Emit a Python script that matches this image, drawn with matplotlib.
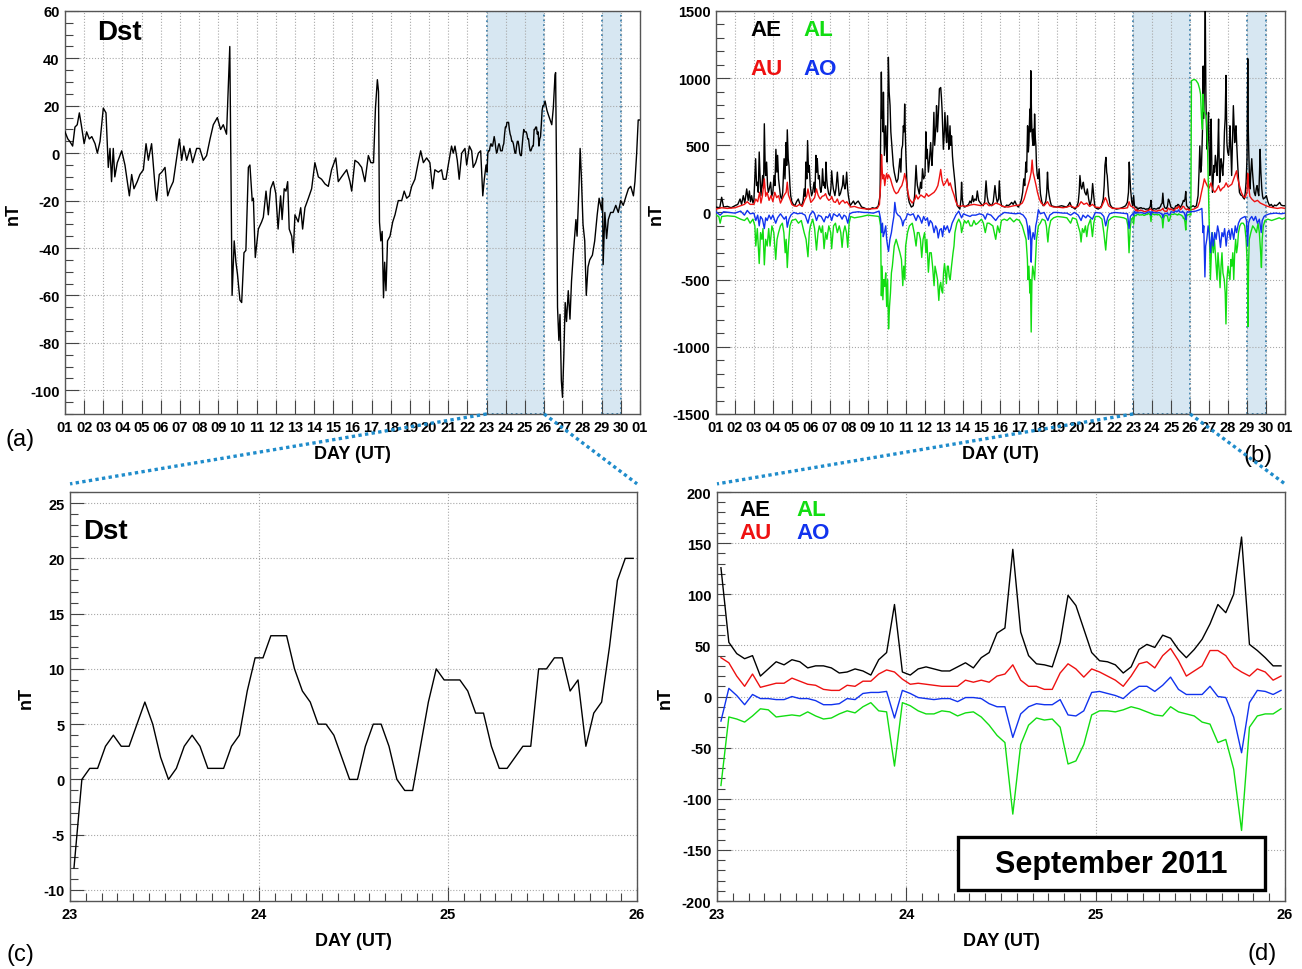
import numpy as np
import matplotlib
matplotlib.use('Agg')
import matplotlib.pyplot as plt
from matplotlib.patches import ConnectionPatch, Rectangle
from matplotlib.ticker import MultipleLocator

plt.rcParams['font.family'] = ['Liberation Sans', 'DejaVu Sans']
plt.rcParams['font.weight'] = 'bold'
plt.rcParams['axes.unicode_minus'] = False

# ── data (day of Sept 2011, value in nT) ─────────────────────────────────
day_labels = [f'{d:02d}' for d in range(1, 31)] + ['01']
zoom_labels = ['23', '24', '25', '26']

# hourly values, 23-26 Sept (panels c/d)
dst_zoom = [-8, 0, 1, 1, 3, 4, 3, 3, 5, 7, 5, 2, 0, 1, 3, 4, 3, 1, 1, 1, 3, 4, 8, 11,
            11, 13, 13, 13, 10, 8, 7, 5, 5, 4, 2, 0, 0, 3, 5, 5, 3, 0, -1, -1, 3, 7, 10, 9,
            9, 9, 8, 6, 6, 3, 1, 1, 2, 3, 3, 10, 10, 11, 11, 8, 9, 3, 6, 7, 12, 18, 20, 20]
ae_zoom = [126, 53, 42, 37, 40, 20, 27, 34, 31, 36, 34, 28, 30, 30, 28, 23, 24, 27, 25, 21, 36, 43, 90, 24,
           21, 27, 29, 27, 25, 25, 29, 33, 28, 38, 43, 62, 67, 144, 63, 40, 32, 31, 29, 53, 99, 89, 66, 43,
           35, 34, 31, 23, 29, 46, 51, 48, 60, 57, 46, 38, 46, 56, 71, 90, 82, 100, 156, 51, 45, 38, 30, 30]
au_zoom = [38, 33, 20, 10, 22, 9, 11, 13, 13, 18, 15, 12, 11, 7, 6, 6, 11, 10, 15, 15, 22, 26, 24, 17,
           12, 13, 12, 11, 10, 10, 10, 16, 14, 16, 14, 20, 22, 31, 16, 10, 10, 7, 7, 23, 32, 27, 19, 27,
           24, 20, 16, 10, 20, 32, 34, 28, 40, 47, 35, 20, 25, 30, 45, 45, 40, 29, 24, 20, 27, 24, 16, 20]
ao_zoom = [-24, 8, 1, -8, 2, -2, -2, -3, -3, 0, -2, -2, -4, -8, -8, -7, -2, -3, 3, 4, 4, 5, -21, 6,
           3, -1, -2, -3, -2, -2, -5, -1, -1, -2, -7, -10, -10, -40, -17, -10, -7, -8, -8, -3, -18, -19, -14, 4,
           5, 3, 1, -2, 5, 10, 10, 5, 11, 19, 7, 2, 2, 2, 10, 0, -1, -20, -55, -6, 6, 5, 2, 6]
al_zoom = [-87, -20, -22, -25, -19, -12, -13, -20, -19, -18, -19, -15, -19, -22, -21, -17, -14, -16, -10, -6, -14, -15, -68, -6,
           -9, -14, -17, -17, -14, -15, -19, -16, -15, -20, -28, -38, -45, -115, -47, -28, -21, -23, -22, -30, -66, -63, -47, -18,
           -14, -14, -15, -13, -10, -12, -15, -18, -19, -10, -15, -17, -19, -25, -27, -45, -42, -71, -131, -30, -19, -17, -17, -12]

# Dst outside the zoom window: (day, nT)
dst_before = [(1.0, 9), (1.05, 8), (1.15, 6), (1.25, 5), (1.4, 3), (1.52, 11), (1.64, 12), (1.75, 17), (1.87, 11),
              (2.0, 4), (2.13, 9), (2.27, 6), (2.4, 7), (2.57, 4), (2.69, 0), (2.83, 5), (3.0, 19), (3.14, 17),
              (3.26, -6), (3.35, 2), (3.43, -12), (3.52, 2), (3.6, -10), (3.73, -4), (3.96, 1), (4.13, -5),
              (4.36, -18), (4.48, -9), (4.6, -15), (4.77, -12), (4.91, -9), (5.09, -7), (5.23, 4), (5.35, -3),
              (5.52, 4), (5.7, -14), (5.78, -20), (5.92, -9), (6.05, -8), (6.22, -6), (6.36, -18), (6.48, -15),
              (6.65, -12), (6.83, -2), (6.97, 6), (7.09, -3), (7.2, 3), (7.35, -3), (7.52, 2), (7.66, -4),
              (7.87, 2), (8.03, 2), (8.22, -3), (8.39, -1), (8.57, 6), (8.74, 12), (8.95, 15), (9.12, 10),
              (9.26, 12), (9.43, 8), (9.52, 27), (9.6, 45), (9.65, 0), (9.72, -60), (9.83, -37), (9.92, -46),
              (10.0, -51), (10.13, -62), (10.22, -63), (10.34, -42), (10.44, -41), (10.57, -6), (10.65, -5),
              (10.77, -20), (10.83, -19), (10.93, -44), (11.09, -32), (11.26, -29), (11.35, -27), (11.49, -16),
              (11.61, -26), (11.73, -15), (11.87, -12), (12.0, -17), (12.12, -32), (12.25, -18), (12.33, -28),
              (12.44, -15), (12.53, -16), (12.62, -12), (12.7, -32), (12.83, -35), (12.91, -42), (13.0, -26),
              (13.17, -29), (13.3, -23), (13.4, -32), (13.52, -23), (13.7, -19), (13.87, -15), (14.04, -4),
              (14.22, -10), (14.39, -11), (14.57, -13), (14.74, -14), (14.91, -7), (15.13, -2), (15.26, -12),
              (15.43, -10), (15.7, -7), (15.87, -12), (15.96, -16), (16.13, -3), (16.3, -4), (16.48, -6),
              (16.65, -12), (16.83, -1), (16.96, -4), (17.1, -4), (17.2, 19), (17.3, 31), (17.36, 26),
              (17.41, -29), (17.48, -37), (17.55, -33), (17.62, -61), (17.68, -46), (17.75, -58), (17.83, -37),
              (17.96, -35), (18.1, -29), (18.22, -26), (18.39, -20), (18.57, -20), (18.7, -16), (18.83, -19),
              (18.97, -18), (19.09, -14), (19.26, -11), (19.43, -4), (19.56, 1), (19.7, -4), (19.87, -2),
              (20.04, -4), (20.18, -15), (20.3, -7), (20.48, -8), (20.65, -7), (20.74, -11), (20.88, -11),
              (21.0, -5), (21.17, 3), (21.26, 0), (21.35, 3), (21.47, -3), (21.57, -11), (21.7, 0), (21.87, 2),
              (21.96, -5), (22.1, 3), (22.22, 1), (22.3, -6), (22.43, -4), (22.57, 0), (22.69, 1), (22.8, -18),
              (22.88, -11), (22.97, -5)]
dst_after = [(26.05, 22), (26.15, 18), (26.23, 16), (26.4, 12), (26.48, 19), (26.57, 33), (26.6, 34), (26.65, -9),
             (26.7, -65), (26.77, -79), (26.83, -68), (26.9, -96), (26.96, -103), (27.03, -85), (27.1, -63),
             (27.17, -71), (27.26, -58), (27.35, -70), (27.43, -54), (27.52, -43), (27.66, -28), (27.72, -35),
             (27.83, -12), (27.88, 2), (27.94, -9), (28.03, -30), (28.12, -37), (28.2, -60), (28.29, -48),
             (28.38, -45), (28.52, -43), (28.64, -37), (28.77, -26), (28.87, -19), (29.0, -24), (29.05, -19),
             (29.08, -47), (29.17, -25), (29.26, -36), (29.35, -28), (29.47, -25), (29.6, -25), (29.74, -22),
             (29.87, -25), (30.0, -20), (30.13, -22), (30.28, -18), (30.4, -15), (30.52, -14), (30.66, -18),
             (30.74, -12), (30.83, 0), (30.91, 14), (31.0, 14)]

ae_before = [(1.0, 40), (1.2, 35), (1.3, 113), (1.4, 40), (1.6, 45), (1.8, 35), (2.0, 50), (2.15, 60), (2.27, 100),
             (2.35, 60), (2.44, 125), (2.52, 70), (2.62, 175), (2.7, 90), (2.76, 160), (2.82, 80), (2.88, 125),
             (2.95, 70), (3.0, 90), (3.09, 400), (3.14, 200), (3.18, 225), (3.23, 150), (3.28, 450), (3.33, 250),
             (3.37, 125), (3.42, 200), (3.46, 275), (3.51, 180), (3.55, 660), (3.6, 300), (3.62, 275), (3.67, 375),
             (3.72, 200), (3.76, 150), (3.82, 180), (3.88, 225), (3.94, 120), (4.0, 150), (4.06, 275), (4.11, 200),
             (4.16, 470), (4.21, 300), (4.25, 425), (4.3, 250), (4.34, 200), (4.4, 120), (4.46, 100), (4.52, 150),
             (4.59, 400), (4.64, 250), (4.69, 520), (4.73, 350), (4.76, 615), (4.81, 400), (4.85, 350), (4.9, 200),
             (4.94, 125), (5.0, 80), (5.08, 60), (5.16, 50), (5.25, 80), (5.34, 100), (5.43, 60), (5.52, 50),
             (5.6, 90), (5.65, 175), (5.7, 120), (5.74, 375), (5.79, 250), (5.83, 535), (5.88, 300), (5.92, 350),
             (5.97, 200), (6.04, 125), (6.1, 150), (6.17, 225), (6.22, 150), (6.27, 425), (6.31, 300), (6.34, 400),
             (6.4, 250), (6.45, 275), (6.49, 180), (6.53, 150), (6.58, 200), (6.62, 325), (6.67, 200), (6.71, 225),
             (6.76, 180), (6.8, 375), (6.84, 250), (6.87, 200), (6.94, 140), (7.01, 125), (7.06, 180), (7.1, 310),
             (7.15, 220), (7.19, 175), (7.27, 125), (7.33, 180), (7.4, 300), (7.45, 200), (7.5, 125), (7.56, 140),
             (7.62, 175), (7.67, 200), (7.71, 275), (7.76, 200), (7.8, 175), (7.85, 220), (7.89, 300), (7.94, 180),
             (7.98, 125), (8.07, 50), (8.17, 70), (8.25, 85), (8.33, 60), (8.42, 75), (8.5, 85), (8.6, 60),
             (8.68, 40), (8.8, 35), (8.95, 25), (9.12, 25), (9.25, 35), (9.39, 30), (9.5, 40), (9.56, 50),
             (9.65, 125), (9.72, 1045), (9.75, 700), (9.78, 745), (9.81, 600), (9.83, 895), (9.86, 600),
             (9.88, 425), (9.92, 550), (9.95, 645), (9.98, 500), (10.02, 375), (10.06, 700), (10.09, 1155),
             (10.13, 900), (10.18, 795), (10.22, 600), (10.26, 520), (10.31, 420), (10.35, 350), (10.4, 300),
             (10.44, 275), (10.49, 240), (10.53, 225), (10.6, 250), (10.65, 330), (10.7, 400), (10.75, 300),
             (10.79, 470), (10.84, 500), (10.88, 645), (10.92, 600), (10.95, 807), (10.99, 550), (11.02, 400),
             (11.06, 250), (11.09, 175), (11.14, 110), (11.19, 75), (11.3, 40), (11.4, 50), (11.47, 120),
             (11.55, 350), (11.59, 250), (11.62, 200), (11.67, 170), (11.72, 137), (11.79, 225), (11.84, 180),
             (11.89, 325), (11.95, 250), (12.02, 275), (12.07, 600), (12.11, 400), (12.14, 470), (12.2, 300),
             (12.25, 375), (12.32, 520), (12.36, 400), (12.39, 350), (12.44, 500), (12.49, 745), (12.53, 500),
             (12.56, 570), (12.6, 650), (12.63, 795), (12.68, 600), (12.72, 720), (12.75, 800), (12.78, 920),
             (12.85, 930), (12.89, 850), (12.92, 770), (12.96, 600), (12.99, 470), (13.04, 600), (13.07, 745),
             (13.12, 600), (13.16, 520), (13.21, 720), (13.25, 550), (13.28, 470), (13.34, 645), (13.38, 500),
             (13.42, 570), (13.47, 420), (13.51, 350), (13.56, 280), (13.6, 225), (13.66, 120), (13.72, 50),
             (13.8, 35), (13.86, 25), (13.92, 100), (13.95, 225), (13.99, 100), (14.04, 50), (14.12, 40),
             (14.22, 50), (14.32, 60), (14.39, 85), (14.46, 70), (14.53, 125), (14.58, 80), (14.65, 100),
             (14.72, 90), (14.78, 160), (14.85, 90), (14.92, 75), (15.0, 60), (15.09, 50), (15.17, 80),
             (15.24, 235), (15.3, 120), (15.36, 75), (15.45, 60), (15.54, 50), (15.62, 80), (15.71, 200),
             (15.77, 120), (15.83, 75), (15.9, 100), (15.94, 235), (15.99, 100), (16.06, 50), (16.15, 45),
             (16.24, 40), (16.33, 55), (16.41, 50), (16.5, 60), (16.59, 75), (16.67, 60), (16.76, 85), (16.85, 55),
             (16.94, 40), (17.03, 60), (17.11, 100), (17.17, 150), (17.23, 250), (17.28, 200), (17.34, 375),
             (17.38, 300), (17.43, 645), (17.47, 450), (17.5, 520), (17.55, 770), (17.58, 600), (17.6, 1055),
             (17.64, 700), (17.67, 570), (17.71, 500), (17.74, 620), (17.77, 500), (17.8, 733), (17.84, 550),
             (17.87, 495), (17.9, 350), (17.94, 275), (17.99, 250), (18.04, 325), (18.08, 200), (18.11, 137),
             (18.18, 80), (18.25, 50), (18.32, 60), (18.39, 85), (18.44, 150), (18.48, 300), (18.52, 180),
             (18.57, 125), (18.63, 80), (18.69, 50), (18.8, 45), (18.96, 40), (19.1, 45), (19.22, 50), (19.35, 45),
             (19.49, 40), (19.58, 55), (19.66, 75), (19.7, 60), (19.75, 40), (19.85, 35), (19.93, 25), (20.02, 40),
             (20.1, 75), (20.15, 150), (20.19, 275), (20.24, 200), (20.28, 175), (20.33, 200), (20.37, 225),
             (20.41, 180), (20.45, 150), (20.52, 130), (20.58, 175), (20.65, 100), (20.72, 50), (20.8, 100),
             (20.86, 215), (20.92, 120), (20.98, 40), (21.07, 30), (21.16, 25), (21.25, 35), (21.33, 50),
             (21.42, 100), (21.47, 200), (21.51, 350), (21.56, 410), (21.6, 300), (21.63, 275), (21.7, 125),
             (21.78, 60), (21.86, 40), (22.0, 30), (22.12, 25), (22.3, 30), (22.48, 40), (22.6, 50), (22.69, 75),
             (22.75, 150), (22.79, 375), (22.83, 250), (22.86, 175), (22.92, 80), (22.97, 50)]
ae_after = [(26.04, 40), (26.16, 50), (26.25, 40), (26.33, 50), (26.42, 125), (26.47, 300), (26.51, 495),
            (26.56, 300), (26.6, 350), (26.65, 600), (26.69, 1090), (26.72, 700), (26.74, 870), (26.77, 1100),
            (26.8, 1520), (26.83, 900), (26.85, 720), (26.88, 550), (26.9, 470), (26.94, 600), (26.97, 745),
            (27.0, 500), (27.04, 275), (27.08, 450), (27.11, 695), (27.15, 300), (27.18, 150), (27.22, 250),
            (27.25, 350), (27.29, 300), (27.33, 425), (27.38, 350), (27.42, 275), (27.46, 450), (27.5, 695),
            (27.53, 400), (27.56, 225), (27.6, 300), (27.63, 400), (27.68, 350), (27.72, 275), (27.77, 400),
            (27.81, 600), (27.85, 700), (27.89, 1020), (27.92, 700), (27.94, 520), (27.98, 450), (28.03, 425),
            (28.07, 500), (28.1, 645), (28.14, 500), (28.19, 275), (28.23, 500), (28.28, 795), (28.32, 650),
            (28.35, 520), (28.38, 600), (28.42, 645), (28.46, 500), (28.51, 350), (28.55, 250), (28.6, 150),
            (28.67, 130), (28.74, 125), (28.8, 110), (28.86, 100), (28.91, 150), (28.95, 225), (29.0, 400),
            (29.04, 1145), (29.07, 600), (29.09, 470), (29.13, 250), (29.16, 175), (29.2, 300), (29.25, 400),
            (29.29, 300), (29.33, 225), (29.38, 150), (29.44, 125), (29.49, 180), (29.53, 200), (29.58, 150),
            (29.62, 125), (29.66, 300), (29.69, 470), (29.73, 300), (29.78, 175), (29.82, 120), (29.86, 100),
            (29.94, 110), (30.02, 125), (30.1, 80), (30.19, 50), (30.28, 60), (30.37, 40), (30.45, 55),
            (30.54, 50), (30.63, 60), (30.72, 75), (30.8, 55), (30.9, 50), (31.0, 50)]

au_before = [(1.0, 25), (1.3, 35), (1.6, 30), (2.0, 35), (2.3, 50), (2.5, 60), (2.65, 80), (2.8, 60), (3.0, 60),
             (3.1, 100), (3.2, 80), (3.3, 150), (3.37, 70), (3.45, 125), (3.55, 250), (3.62, 120), (3.7, 150),
             (3.8, 90), (3.9, 125), (4.0, 80), (4.1, 150), (4.2, 110), (4.3, 125), (4.4, 70), (4.5, 100), (4.6, 130),
             (4.7, 150), (4.76, 225), (4.82, 130), (4.9, 100), (5.0, 60), (5.1, 50), (5.25, 45), (5.4, 60),
             (5.55, 45), (5.7, 100), (5.78, 120), (5.85, 175), (5.92, 125), (6.0, 75), (6.1, 90), (6.2, 110),
             (6.3, 175), (6.38, 130), (6.45, 110), (6.5, 100), (6.6, 120), (6.7, 125), (6.78, 140), (6.85, 110),
             (6.95, 90), (7.05, 100), (7.1, 120), (7.2, 80), (7.3, 75), (7.4, 100), (7.5, 60), (7.6, 80), (7.7, 90),
             (7.8, 70), (7.9, 80), (8.0, 60), (8.1, 40), (8.3, 45), (8.5, 35), (8.7, 30), (9.0, 25), (9.3, 28),
             (9.5, 30), (9.62, 60), (9.7, 250), (9.73, 430), (9.77, 300), (9.8, 250), (9.85, 280), (9.9, 200),
             (9.95, 260), (10.0, 290), (10.05, 250), (10.1, 280), (10.2, 250), (10.3, 200), (10.4, 160),
             (10.5, 140), (10.6, 150), (10.7, 180), (10.8, 200), (10.9, 250), (10.95, 290), (11.0, 260),
             (11.05, 225), (11.12, 150), (11.2, 100), (11.35, 70), (11.5, 100), (11.55, 130), (11.65, 100),
             (11.8, 130), (11.9, 120), (12.0, 110), (12.1, 140), (12.2, 120), (12.3, 130), (12.4, 140), (12.5, 150),
             (12.6, 170), (12.7, 200), (12.78, 260), (12.85, 320), (12.92, 240), (13.0, 200), (13.1, 220),
             (13.2, 250), (13.28, 200), (13.35, 220), (13.45, 170), (13.55, 130), (13.65, 80), (13.75, 50),
             (13.9, 45), (14.0, 50), (14.2, 45), (14.4, 55), (14.6, 60), (14.8, 55), (15.0, 50), (15.25, 70),
             (15.4, 50), (15.6, 55), (15.75, 70), (15.95, 60), (16.1, 45), (16.4, 40), (16.7, 50), (17.0, 55),
             (17.15, 70), (17.25, 100), (17.35, 150), (17.45, 200), (17.55, 250), (17.62, 300), (17.67, 390),
             (17.72, 300), (17.8, 250), (17.88, 200), (17.95, 150), (18.05, 100), (18.15, 70), (18.3, 50),
             (18.48, 80), (18.6, 50), (18.8, 40), (19.0, 40), (19.3, 35), (19.5, 40), (19.7, 50), (19.9, 35),
             (20.1, 45), (20.25, 80), (20.4, 60), (20.55, 70), (20.7, 45), (20.85, 60), (21.0, 40), (21.3, 35),
             (21.45, 80), (21.53, 110), (21.6, 90), (21.7, 50), (21.9, 30), (22.2, 30), (22.5, 30), (22.7, 35),
             (22.78, 80), (22.85, 50), (22.97, 40)]
au_after = [(26.04, 20), (26.2, 25), (26.4, 40), (26.5, 80), (26.6, 150), (26.68, 200), (26.75, 250), (26.8, 230),
            (26.9, 200), (27.0, 180), (27.1, 220), (27.2, 170), (27.3, 150), (27.4, 170), (27.5, 200), (27.6, 160),
            (27.7, 180), (27.8, 190), (27.9, 220), (28.0, 190), (28.1, 200), (28.2, 210), (28.3, 250), (28.4, 290),
            (28.45, 310), (28.5, 260), (28.6, 200), (28.7, 150), (28.8, 120), (28.9, 110), (29.0, 150),
            (29.04, 290), (29.08, 200), (29.15, 120), (29.25, 100), (29.4, 80), (29.55, 90), (29.7, 70),
            (29.85, 60), (30.0, 50), (30.2, 40), (30.4, 35), (30.6, 30), (30.8, 35), (31.0, 30)]

al_before = [(1.0, -20), (1.15, -30), (1.22, -80), (1.3, -30), (1.6, -25), (2.0, -30), (2.3, -50), (2.5, -60),
             (2.65, -40), (2.8, -80), (2.95, -50), (3.05, -100), (3.1, -250), (3.18, -120), (3.28, -380),
             (3.35, -150), (3.42, -200), (3.48, -120), (3.55, -390), (3.62, -200), (3.7, -250), (3.78, -120),
             (3.85, -250), (3.95, -100), (4.05, -150), (4.15, -350), (4.22, -200), (4.3, -150), (4.4, -100),
             (4.5, -80), (4.58, -150), (4.65, -300), (4.7, -200), (4.76, -410), (4.82, -250), (4.9, -100),
             (5.0, -60), (5.2, -50), (5.35, -80), (5.5, -60), (5.65, -150), (5.75, -200), (5.85, -330),
             (5.92, -150), (5.98, -100), (6.1, -50), (6.2, -120), (6.3, -280), (6.38, -150), (6.45, -100),
             (6.55, -150), (6.62, -100), (6.7, -270), (6.78, -150), (6.85, -200), (6.95, -100), (7.05, -150),
             (7.1, -270), (7.2, -100), (7.3, -80), (7.4, -150), (7.5, -100), (7.58, -150), (7.65, -260),
             (7.72, -150), (7.8, -100), (7.88, -150), (7.95, -260), (8.02, -80), (8.1, -30), (8.3, -40),
             (8.5, -35), (8.7, -30), (9.0, -20), (9.3, -25), (9.6, -30), (9.68, -100), (9.72, -620), (9.76, -400),
             (9.8, -650), (9.85, -500), (9.9, -550), (9.95, -450), (10.0, -700), (10.05, -500), (10.1, -867),
             (10.15, -700), (10.2, -600), (10.25, -450), (10.3, -400), (10.4, -250), (10.5, -200), (10.6, -250),
             (10.7, -300), (10.78, -350), (10.85, -545), (10.9, -400), (10.96, -500), (11.0, -250), (11.1, -150),
             (11.2, -100), (11.35, -80), (11.45, -150), (11.55, -250), (11.62, -150), (11.7, -150), (11.78, -200),
             (11.85, -335), (11.92, -200), (12.0, -150), (12.07, -300), (12.12, -200), (12.2, -445), (12.27, -300),
             (12.35, -300), (12.42, -400), (12.5, -545), (12.55, -400), (12.62, -450), (12.68, -500),
             (12.75, -655), (12.8, -550), (12.85, -520), (12.9, -580), (12.95, -600), (13.0, -450), (13.05, -380),
             (13.1, -450), (13.15, -530), (13.2, -400), (13.25, -400), (13.3, -480), (13.35, -500), (13.42, -400),
             (13.5, -300), (13.55, -250), (13.6, -150), (13.7, -80), (13.8, -50), (13.9, -80), (13.95, -150),
             (14.0, -120), (14.1, -60), (14.2, -80), (14.3, -60), (14.4, -100), (14.5, -100), (14.6, -60),
             (14.7, -90), (14.8, -80), (15.0, -50), (15.1, -80), (15.2, -150), (15.3, -80), (15.4, -80),
             (15.6, -100), (15.75, -200), (15.85, -100), (15.95, -150), (16.05, -60), (16.2, -50), (16.35, -60),
             (16.5, -40), (16.7, -70), (16.85, -50), (17.0, -60), (17.15, -100), (17.25, -150), (17.35, -200),
             (17.42, -350), (17.45, -500), (17.5, -400), (17.55, -600), (17.58, -500), (17.62, -890), (17.66, -500),
             (17.7, -400), (17.75, -450), (17.8, -500), (17.85, -350), (17.9, -200), (18.0, -100), (18.1, -80),
             (18.2, -50), (18.35, -60), (18.42, -100), (18.5, -220), (18.56, -120), (18.65, -60), (18.8, -40),
             (19.0, -30), (19.3, -35), (19.5, -40), (19.7, -80), (19.8, -40), (20.0, -50), (20.1, -100),
             (20.2, -150), (20.25, -220), (20.32, -120), (20.4, -150), (20.48, -100), (20.55, -180), (20.62, -100),
             (20.75, -50), (20.85, -180), (20.92, -80), (21.0, -30), (21.2, -30), (21.35, -50), (21.45, -150),
             (21.55, -280), (21.62, -150), (21.7, -60), (21.85, -40), (22.0, -30), (22.3, -35), (22.5, -40),
             (22.65, -50), (22.72, -100), (22.78, -300), (22.84, -120), (22.9, -50), (22.97, -40)]
al_after = [(26.04, -20), (26.07, 980), (26.2, 990), (26.3, 985), (26.42, 960), (26.5, 920), (26.55, 880),
            (26.6, 700), (26.65, 620), (26.68, 880), (26.72, 760), (26.78, 740), (26.85, 720), (26.9, 600),
            (26.93, 400), (26.97, 100), (27.0, -100), (27.03, -300), (27.07, -500), (27.12, -300), (27.17, -150),
            (27.22, -300), (27.28, -200), (27.35, -350), (27.42, -500), (27.47, -300), (27.52, -400),
            (27.58, -560), (27.63, -400), (27.68, -300), (27.73, -450), (27.8, -500), (27.85, -600),
            (27.89, -830), (27.94, -500), (28.0, -400), (28.05, -450), (28.1, -500), (28.15, -350), (28.2, -400),
            (28.25, -300), (28.3, -500), (28.35, -300), (28.4, -200), (28.45, -300), (28.5, -250), (28.55, -150),
            (28.62, -100), (28.7, -80), (28.8, -80), (28.88, -100), (28.95, -200), (29.02, -400), (29.05, -850),
            (29.08, -400), (29.12, -200), (29.2, -150), (29.3, -100), (29.4, -120), (29.5, -150), (29.58, -80),
            (29.65, -150), (29.72, -300), (29.76, -410), (29.8, -200), (29.86, -100), (29.95, -60), (30.1, -50),
            (30.3, -60), (30.5, -50), (30.7, -40), (30.85, -50), (31.0, -40)]

ao_before = [(1.0, 5), (1.22, -20), (1.4, 5), (1.7, 0), (2.0, -5), (2.3, 10), (2.5, -20), (2.65, 15), (2.8, -10),
             (3.0, -5), (3.1, -60), (3.2, -20), (3.28, -100), (3.35, -30), (3.45, -50), (3.55, -120), (3.62, -40),
             (3.7, -60), (3.8, -20), (3.9, -50), (4.0, -20), (4.15, -80), (4.25, -40), (4.4, -10), (4.6, -50),
             (4.7, -30), (4.76, -110), (4.85, -50), (4.95, -20), (5.1, 0), (5.3, -10), (5.5, -5), (5.7, -20),
             (5.85, -80), (5.95, -20), (6.1, 10), (6.2, -10), (6.3, -60), (6.4, -20), (6.55, -30), (6.7, -70),
             (6.8, -30), (6.9, -40), (7.0, -10), (7.1, -60), (7.2, -10), (7.4, -30), (7.5, -10), (7.65, -50),
             (7.75, -20), (7.85, -30), (7.95, -80), (8.05, -10), (8.2, 0), (8.5, 5), (8.8, 0), (9.0, 0), (9.3, -5),
             (9.6, 10), (9.68, -50), (9.73, -150), (9.78, -80), (9.82, -180), (9.88, -150), (9.95, -100),
             (10.0, -200), (10.05, -250), (10.1, -290), (10.17, -200), (10.25, -150), (10.32, -80), (10.38, -30),
             (10.43, 75), (10.5, 0), (10.6, -20), (10.7, -30), (10.8, -60), (10.85, -100), (10.92, -60),
             (11.0, -50), (11.1, -10), (11.25, -20), (11.4, -10), (11.55, -60), (11.65, -20), (11.75, -40),
             (11.85, -80), (11.95, -30), (12.05, -60), (12.15, -40), (12.22, -100), (12.3, -60), (12.4, -80),
             (12.5, -150), (12.58, -100), (12.65, -120), (12.72, -190), (12.8, -130), (12.88, -120), (12.95, -180),
             (13.02, -100), (13.1, -130), (13.2, -100), (13.3, -150), (13.38, -120), (13.45, -80), (13.55, -50),
             (13.65, -20), (13.8, 10), (13.95, -40), (14.05, -10), (14.2, -20), (14.4, -30), (14.5, -20),
             (14.7, -20), (14.9, -10), (15.1, -20), (15.2, -50), (15.3, -10), (15.5, -20), (15.75, -60), (15.9, -30),
             (16.0, -20), (16.2, 0), (16.5, -5), (16.8, -10), (17.0, -5), (17.2, -20), (17.35, -50), (17.42, -100),
             (17.48, -200), (17.53, -100), (17.58, -150), (17.62, -370), (17.66, -200), (17.72, -150), (17.8, -200),
             (17.86, -100), (17.92, -60), (18.0, 20), (18.1, -10), (18.3, 0), (18.5, -60), (18.6, -20), (18.8, 0),
             (19.0, 0), (19.3, -5), (19.5, -5), (19.7, -20), (19.9, 0), (20.1, -20), (20.25, -60), (20.35, -20),
             (20.5, -40), (20.6, -20), (20.85, -50), (21.0, 0), (21.3, -5), (21.45, -30), (21.55, -100),
             (21.65, -40), (21.75, -10), (22.0, 0), (22.4, -5), (22.7, -10), (22.78, -120), (22.85, -30),
             (22.97, -10)]
ao_after = [(26.04, 5), (26.3, 10), (26.5, 20), (26.62, 30), (26.68, -150), (26.72, -100), (26.78, -480),
            (26.82, -250), (26.88, -200), (26.95, -100), (27.0, -150), (27.08, -300), (27.15, -150), (27.22, -250),
            (27.3, -150), (27.37, -200), (27.45, -100), (27.52, -150), (27.6, -260), (27.68, -150), (27.75, -180),
            (27.82, -120), (27.9, -250), (27.98, -150), (28.05, -130), (28.12, -200), (28.2, -120), (28.3, -200),
            (28.38, -100), (28.45, -150), (28.55, -80), (28.65, -50), (28.75, -40), (28.9, -30), (28.97, -60),
            (29.03, -250), (29.08, -80), (29.15, -50), (29.25, -30), (29.35, -60), (29.45, -30), (29.55, -80),
            (29.65, -50), (29.75, -150), (29.8, -60), (29.9, -30), (30.0, -20), (30.2, -10), (30.5, -5),
            (30.8, -10), (31.0, -5)]

# shaded intervals (days)
spans = [(23, 26), (29, 30)]

# ── helpers ──────────────────────────────────────────────────────────────
hour_t = 23 + (np.arange(len(ae_zoom)) + 0.5) / 24.0


def join(before, zoom, after):
    tb, vb = zip(*before)
    ta, va = zip(*after)
    t = np.concatenate([tb, 23 + (np.arange(len(zoom)) + 0.5) / 24.0, ta])
    v = np.concatenate([vb, zoom, va])
    return t, v


C_AE, C_AU, C_AL, C_AO = 'black', '#ee1111', '#11dd11', '#1133ee'
GRID = dict(color='#a8a8a8', ls=':', lw=0.8)


def frame(ax, ymaj, ymin):
    ax.set_axisbelow('line')
    for s in ax.spines.values():
        s.set_color('#555555')
        s.set_linewidth(1.0)
    ax.yaxis.set_major_locator(MultipleLocator(ymaj))
    ax.yaxis.set_minor_locator(MultipleLocator(ymin))
    ax.tick_params(which='both', direction='in', top=False, right=False,
                   color='#444444', width=0.8, labelsize=10.5)
    ax.tick_params(which='major', length=10, pad=4)
    ax.tick_params(which='minor', length=6)
    ax.grid(True, which='major', **GRID)
    ax.set_xlabel('DAY (UT)', fontsize=13, fontweight='bold', labelpad=8)
    ax.set_ylabel('nT', fontsize=13, fontweight='bold', labelpad=6)


fig = plt.figure(figsize=(13.02, 9.70), dpi=100)
ax_a = fig.add_axes([0.0499, 0.5722, 0.4416, 0.4155])
ax_b = fig.add_axes([0.5499, 0.5722, 0.4370, 0.4155])
ax_c = fig.add_axes([0.0538, 0.0701, 0.4355, 0.4216])
ax_d = fig.add_axes([0.5507, 0.0701, 0.4362, 0.4216])

# ── (a) Dst, whole month ────────────────────────────────────────────────
t, v = join(dst_before, dst_zoom, dst_after)
ax_a.plot(t, v, color='black', lw=1.0, zorder=3)
ax_a.set_xlim(1, 31)
ax_a.set_ylim(-110, 60)
ax_a.set_xticks(range(1, 32))
ax_a.set_xticklabels(day_labels)
ax_a.text(0.056, 0.948, 'Dst', transform=ax_a.transAxes, fontsize=20,
          fontweight='bold', ha='left', va='center')

# ── (b) AE / AU / AL / AO ───────────────────────────────────────────────
for before, zoom, after, col in [(ae_before, ae_zoom, ae_after, C_AE),
                                 (au_before, au_zoom, au_after, C_AU),
                                 (al_before, al_zoom, al_after, C_AL),
                                 (ao_before, ao_zoom, ao_after, C_AO)]:
    t, v = join(before, zoom, after)
    ax_b.plot(t, v, color=col, lw=1.0, zorder=3)
ax_b.set_xlim(1, 31)
ax_b.set_ylim(-1500, 1500)
ax_b.set_xticks(range(1, 32))
ax_b.set_xticklabels(day_labels)
for x, y, s, col in [(0.06, 0.953, 'AE', C_AE), (0.153, 0.953, 'AL', C_AL),
                     (0.06, 0.856, 'AU', C_AU), (0.153, 0.856, 'AO', C_AO)]:
    ax_b.text(x, y, s, color=col, transform=ax_b.transAxes, fontsize=16,
              fontweight='bold', ha='left', va='center')

for ax in (ax_a, ax_b):
    for x0, x1 in spans:
        ax.axvspan(x0, x1, facecolor='#d7e7f2', edgecolor='#3b80ad',
                   ls=':', lw=1.3, zorder=1)

# ── (c) Dst, 23-26 ──────────────────────────────────────────────────────
ax_c.plot(hour_t, dst_zoom, color='black', lw=1.0, zorder=3)
ax_c.set_xlim(23, 26)
ax_c.set_ylim(-11, 26)
ax_c.set_xticks([23, 24, 25, 26])
ax_c.set_xticklabels(zoom_labels)
ax_c.xaxis.set_minor_locator(MultipleLocator(1 / 12))
ax_c.text(0.023, 0.905, 'Dst', transform=ax_c.transAxes, fontsize=20,
          fontweight='bold', ha='left', va='center')

# ── (d) AE / AU / AL / AO, 23-26 ────────────────────────────────────────
ax_d.plot(hour_t, ae_zoom, color=C_AE, lw=1.0, zorder=3)
ax_d.plot(hour_t, au_zoom, color=C_AU, lw=1.0, zorder=3)
ax_d.plot(hour_t, ao_zoom, color=C_AO, lw=1.0, zorder=3)
ax_d.plot(hour_t, al_zoom, color=C_AL, lw=1.0, zorder=3)
ax_d.set_xlim(23, 26)
ax_d.set_ylim(-200, 200)
ax_d.set_xticks([23, 24, 25, 26])
ax_d.set_xticklabels(zoom_labels)
ax_d.xaxis.set_minor_locator(MultipleLocator(1 / 12))
for x, y, s, col in [(0.039, 0.958, 'AE', C_AE), (0.139, 0.958, 'AL', C_AL),
                     (0.039, 0.902, 'AU', C_AU), (0.139, 0.902, 'AO', C_AO)]:
    ax_d.text(x, y, s, color=col, transform=ax_d.transAxes, fontsize=16,
              fontweight='bold', ha='left', va='center')
ax_d.add_patch(Rectangle((0.424, 0.027), 0.541, 0.129, transform=ax_d.transAxes,
                         facecolor='white', edgecolor='black', lw=2.4, zorder=5))
ax_d.text(0.6945, 0.0915, 'September 2011', transform=ax_d.transAxes,
          fontsize=22, fontweight='bold', ha='center', va='center', zorder=6)

frame(ax_a, 20, 5)
frame(ax_b, 500, 100)
frame(ax_c, 5, 1)
frame(ax_d, 50, 10)

# ── zoom connectors ─────────────────────────────────────────────────────
for top, bot in [(ax_a, ax_c), (ax_b, ax_d)]:
    y0 = top.get_ylim()[0]
    for xd, xf in [(23, 0.0), (26, 1.0)]:
        con = ConnectionPatch(xyA=(xd, y0), coordsA=top.transData,
                              xyB=(xf, 1.02), coordsB=bot.transAxes,
                              color='#1f8ccb', lw=2.4, ls=(0, (1, 1)),
                              capstyle='butt', zorder=10)
        fig.add_artist(con)

# ── panel tags ──────────────────────────────────────────────────────────
for x, y, s in [(20, 440, '(a)'), (1258, 456, '(b)'), (20, 955, '(c)'), (1262, 954, '(d)')]:
    fig.text(x / 1302, 1 - y / 970, s, fontsize=17, fontweight='normal',
             ha='center', va='center')

fig.savefig('out.png', dpi=100)
